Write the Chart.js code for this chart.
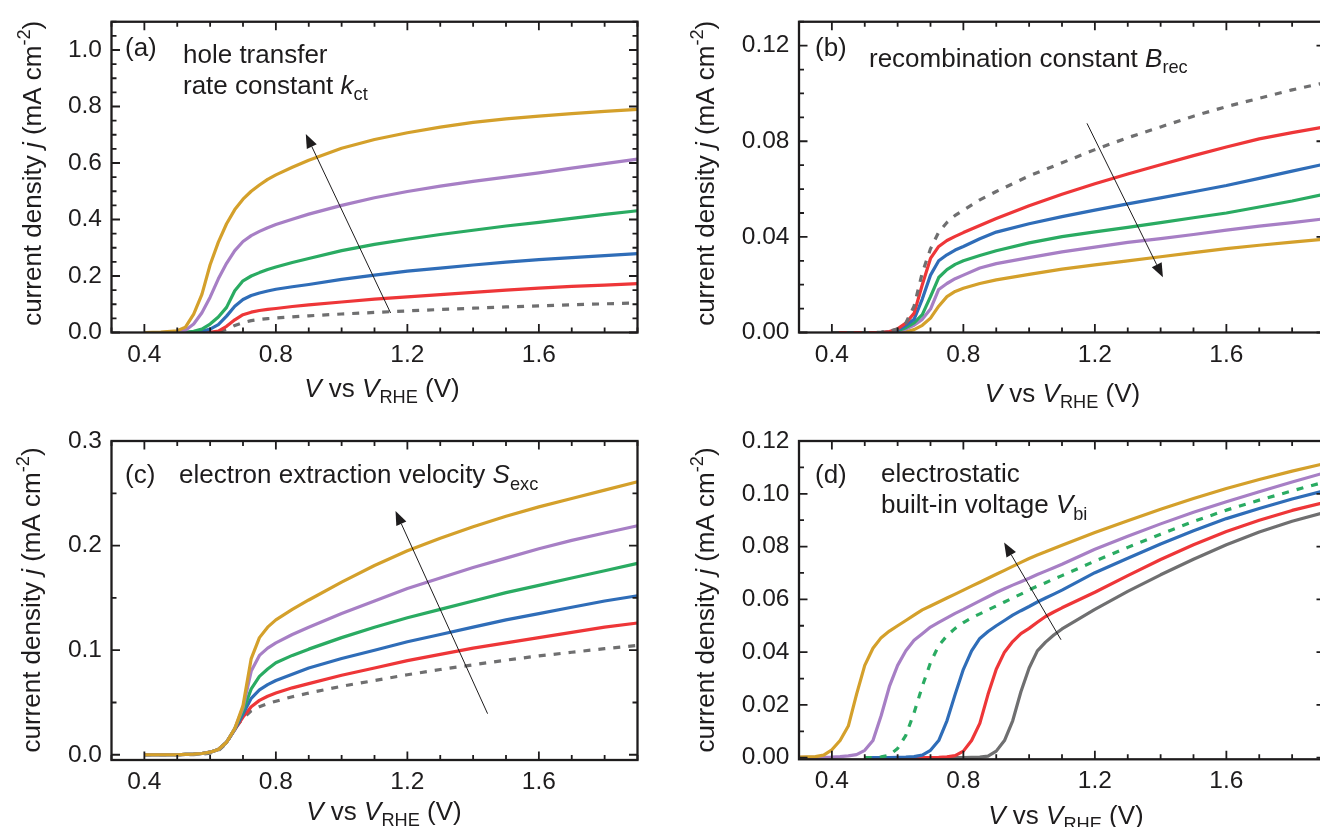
<!DOCTYPE html>
<html>
<head>
<meta charset="utf-8">
<script src="https://cdn.jsdelivr.net/npm/chart.js@4.4.1/dist/chart.umd.min.js"></script>
<style>
  html, body { margin: 0; padding: 0; background: #fff; overflow: hidden; }
  #wrap { position: relative; width: 1320px; height: 827px; overflow: hidden; }
  canvas { position: absolute; }
</style>
</head>
<body>
<div id="wrap">
  <canvas id="panelA" width="660" height="414" style="left:0;top:0"></canvas>
  <canvas id="panelB" width="670" height="414" style="left:660px;top:0"></canvas>
  <canvas id="panelC" width="660" height="413" style="left:0;top:414px"></canvas>
  <canvas id="panelD" width="670" height="413" style="left:660px;top:414px"></canvas>
</div>
<script>
/* ========== Data ========== */
// voltage grid for panels (a)-(c)
const voltage = [0.40, 0.45, 0.50, 0.525, 0.55, 0.575, 0.60, 0.625, 0.65, 0.675, 0.70, 0.725, 0.75, 0.775,
  0.80, 0.85, 0.90, 1.0, 1.1, 1.2, 1.3, 1.4, 1.5, 1.6, 1.7, 1.8, 1.9];

// reference curve (grey dashed), same in (a), (b), (c)
const jRef = [0, 0, 0, 0, 0.0002, 0.0006, 0.0015, 0.004, 0.011, 0.025, 0.035, 0.042, 0.046, 0.049,
  0.0512, 0.0555, 0.059, 0.0655, 0.071, 0.0765, 0.0815, 0.086, 0.0905, 0.0945, 0.098, 0.1015, 0.1045];

// (a) hole transfer rate constant
const aGold   = [0, 0.001, 0.006, 0.019, 0.065, 0.135, 0.24, 0.32, 0.385, 0.435, 0.472, 0.5, 0.522, 0.542,
  0.558, 0.585, 0.61, 0.652, 0.683, 0.707, 0.727, 0.744, 0.756, 0.766, 0.775, 0.783, 0.79];
const aPurple = [0, 0, 0.002, 0.008, 0.03, 0.07, 0.125, 0.19, 0.245, 0.29, 0.322, 0.343, 0.358, 0.371,
  0.382, 0.401, 0.419, 0.45, 0.477, 0.499, 0.518, 0.535, 0.55, 0.565, 0.582, 0.598, 0.614];
const aGreen  = [0, 0, 0, 0.001, 0.004, 0.012, 0.03, 0.055, 0.089, 0.148, 0.183, 0.2, 0.212, 0.223,
  0.232, 0.248, 0.262, 0.29, 0.312, 0.33, 0.347, 0.362, 0.377, 0.39, 0.404, 0.418, 0.431];
const aBlue   = [0, 0, 0, 0, 0.001, 0.004, 0.012, 0.028, 0.058, 0.093, 0.117, 0.131, 0.14, 0.147,
  0.153, 0.162, 0.17, 0.188, 0.203, 0.217, 0.228, 0.239, 0.249, 0.258, 0.265, 0.272, 0.279];
const aRed    = [0, 0, 0, 0, 0, 0, 0.001, 0.005, 0.022, 0.045, 0.063, 0.072, 0.078, 0.082,
  0.085, 0.092, 0.098, 0.108, 0.118, 0.126, 0.134, 0.142, 0.15, 0.157, 0.163, 0.168, 0.173];

// (b) recombination constant
const bRed    = [0, 0, 0, 0, 0, 0.0004, 0.0015, 0.004, 0.008, 0.02, 0.031, 0.036, 0.0385, 0.0402,
  0.0418, 0.0448, 0.0477, 0.053, 0.0578, 0.0622, 0.0663, 0.0702, 0.074, 0.0776, 0.081, 0.0836, 0.086];
const bBlue   = [0, 0, 0, 0, 0, 0.0003, 0.001, 0.003, 0.0055, 0.014, 0.024, 0.03, 0.0325, 0.0345,
  0.036, 0.0392, 0.042, 0.0455, 0.0485, 0.0512, 0.0538, 0.0563, 0.0589, 0.0615, 0.0645, 0.0675, 0.0705];
const bGreen  = [0, 0, 0, 0, 0, 0.0002, 0.0007, 0.002, 0.004, 0.0075, 0.015, 0.023, 0.0263, 0.0285,
  0.03, 0.0322, 0.0342, 0.0375, 0.0401, 0.0421, 0.044, 0.046, 0.048, 0.05, 0.0525, 0.055, 0.0579];
const bPurple = [0, 0, 0, 0, 0, 0.0001, 0.0005, 0.0015, 0.003, 0.0055, 0.0098, 0.018, 0.0205, 0.0225,
  0.024, 0.027, 0.0288, 0.0313, 0.0337, 0.0357, 0.0377, 0.0393, 0.041, 0.0428, 0.0445, 0.046, 0.0476];
const bGold   = [0, 0, 0, 0, 0, 0, 0.0001, 0.0003, 0.0012, 0.003, 0.006, 0.011, 0.015, 0.0172,
  0.0185, 0.0205, 0.022, 0.0243, 0.0265, 0.0283, 0.03, 0.0317, 0.0334, 0.0351, 0.0365, 0.0378, 0.0391];

// (c) electron extraction velocity
const cGold   = [0, 0, 0, 0.0003, 0.0006, 0.0012, 0.0025, 0.005, 0.012, 0.025, 0.047, 0.092, 0.112, 0.122,
  0.129, 0.139, 0.148, 0.165, 0.181, 0.195, 0.207, 0.218, 0.228, 0.237, 0.245, 0.253, 0.261];
const cPurple = [0, 0, 0, 0.0003, 0.0006, 0.0012, 0.0025, 0.005, 0.012, 0.025, 0.045, 0.08, 0.095, 0.102,
  0.107, 0.115, 0.122, 0.135, 0.147, 0.159, 0.169, 0.179, 0.188, 0.197, 0.205, 0.212, 0.219];
const cGreen  = [0, 0, 0, 0.0003, 0.0006, 0.0012, 0.0025, 0.005, 0.012, 0.025, 0.042, 0.063, 0.075, 0.082,
  0.088, 0.095, 0.101, 0.112, 0.122, 0.131, 0.139, 0.147, 0.155, 0.162, 0.169, 0.176, 0.183];
const cBlue   = [0, 0, 0, 0.0003, 0.0006, 0.0012, 0.0025, 0.005, 0.012, 0.024, 0.039, 0.054, 0.062, 0.067,
  0.071, 0.077, 0.083, 0.092, 0.1, 0.108, 0.115, 0.122, 0.129, 0.135, 0.141, 0.147, 0.152];
const cRed    = [0, 0, 0, 0.0003, 0.0006, 0.0012, 0.0025, 0.005, 0.012, 0.024, 0.036, 0.046, 0.052, 0.056,
  0.059, 0.064, 0.068, 0.076, 0.083, 0.09, 0.096, 0.102, 0.107, 0.112, 0.117, 0.122, 0.126];

// (d) built-in voltage: its own grid
const voltageD = [0.30, 0.35, 0.375, 0.40, 0.425, 0.45, 0.475, 0.50, 0.525, 0.55, 0.575, 0.60, 0.625, 0.65,
  0.675, 0.70, 0.725, 0.75, 0.775, 0.80, 0.825, 0.85, 0.875, 0.90, 0.925, 0.95, 0.975, 1.0, 1.025, 1.05,
  1.075, 1.1, 1.2, 1.3, 1.4, 1.5, 1.6, 1.7, 1.8, 1.9];
const dGold   = [0.0002, 0.0004, 0.001, 0.003, 0.0065, 0.012, 0.024, 0.035, 0.0415, 0.0455, 0.048, 0.05, 0.052, 0.054,
  0.056, 0.0575, 0.059, 0.0605, 0.062, 0.0635, 0.065, 0.0665, 0.068, 0.0695, 0.071, 0.0725, 0.074, 0.0755, 0.0768, 0.078,
  0.0793, 0.0805, 0.0853, 0.0898, 0.0941, 0.0982, 0.102, 0.1054, 0.1086, 0.1115];
const dPurple = [0.0001, 0.0001, 0.0001, 0.0002, 0.0004, 0.0007, 0.0012, 0.0028, 0.0065, 0.016, 0.027, 0.035, 0.0405, 0.0445,
  0.047, 0.0495, 0.0513, 0.053, 0.0547, 0.0562, 0.0578, 0.0594, 0.061, 0.0626, 0.064, 0.0654, 0.0667, 0.068, 0.0694, 0.0707,
  0.072, 0.0733, 0.079, 0.0839, 0.0886, 0.093, 0.097, 0.1008, 0.1045, 0.108];
const dGreen  = [null, null, null, null, null, null, null, 0, 0.0001, 0.0003, 0.001, 0.0035, 0.0085, 0.017,
  0.027, 0.036, 0.0425, 0.0462, 0.049, 0.0512, 0.053, 0.0545, 0.056, 0.0575, 0.059, 0.0605, 0.062, 0.0636, 0.065, 0.0663,
  0.0677, 0.069, 0.0745, 0.0797, 0.0847, 0.0895, 0.0938, 0.0976, 0.1011, 0.1045];
const dBlue   = [null, null, null, null, null, null, null, 0, 0, 0, 0, 0.0001, 0.0002, 0.0004,
  0.001, 0.0028, 0.0065, 0.014, 0.024, 0.0335, 0.0405, 0.0452, 0.0478, 0.05, 0.052, 0.054, 0.0557, 0.0573, 0.059, 0.0605,
  0.062, 0.0635, 0.0701, 0.0756, 0.081, 0.086, 0.0906, 0.0944, 0.098, 0.1012];
const dRed    = [null, null, null, null, null, null, null, 0, 0, 0, 0, 0, 0, 0,
  0, 0, 0.0001, 0.0003, 0.0008, 0.0025, 0.0065, 0.013, 0.024, 0.0335, 0.04, 0.044, 0.047, 0.049, 0.0513, 0.0535,
  0.0552, 0.0568, 0.0627, 0.069, 0.0751, 0.0807, 0.0857, 0.09, 0.0937, 0.0968];
const dGray   = [null, null, null, null, null, null, null, null, null, null, null, null, null, null,
  null, 0, 0, 0, 0, 0, 0.0001, 0.0002, 0.0006, 0.0025, 0.0065, 0.014, 0.025, 0.034, 0.0405, 0.0438,
  0.0465, 0.0488, 0.0562, 0.063, 0.0693, 0.0752, 0.0807, 0.0855, 0.0896, 0.093];

// tick labels
const xTicks  = [0.4, 0.8, 1.2, 1.6];
const aYTicks = [0, 0.2, 0.4, 0.6, 0.8, 1.0];
const bYTicks = [0, 0.04, 0.08, 0.12];
const cYTicks = [0, 0.1, 0.2, 0.3];
const dYTicks = [0, 0.02, 0.04, 0.06, 0.08, 0.10, 0.12];

// arrows [tail, tip] in data units
const aArrow = [[1.149, 0.069], [0.891, 0.703]];
const bArrow = [[1.176, 0.0875], [1.407, 0.0231]];
const cArrow = [[1.444, 0.0393], [1.164, 0.233]];
const dArrow = [[1.097, 0.0447], [0.924, 0.0815]];

/* ========== Styles ========== */
const INK = '#1e1c1d';
const FONT = "'Liberation Sans', Arial, Helvetica, sans-serif";
const GOLD = '#d4a02b', PURPLE = '#a77fc5', GREEN = '#2aab62', BLUE = '#2f6db8', RED = '#ee3638', GREY = '#6f6f70';
const DASH = [7, 8];

/* ========== Helpers ========== */
// parts: strings, or [text, 'i' | 'sub' | 'sup']
function richText(ctx, parts, x, y, size, align) {
  const items = parts.map(p => Array.isArray(p) ? { t: p[0], s: p[1] } : { t: p, s: '' });
  const fontOf = it => {
    const small = it.s === 'sub' || it.s === 'sup';
    return (it.s === 'i' ? 'italic ' : '') + (small ? size * 0.7 : size) + 'px ' + FONT;
  };
  let total = 0;
  items.forEach(it => { ctx.font = fontOf(it); it.w = ctx.measureText(it.t).width; total += it.w; });
  let cx = align === 'center' ? x - total / 2 : x;
  items.forEach(it => {
    ctx.font = fontOf(it);
    const dy = it.s === 'sub' ? size * 0.24 : it.s === 'sup' ? -size * 0.42 : 0;
    ctx.fillText(it.t, cx, y + dy);
    cx += it.w;
  });
}

/* ========== Plugins: frame with inward ticks, texts, arrow ========== */
const framePlugin = {
  id: 'frame',
  afterDraw(chart, args, o) {
    const { ctx, chartArea: a, scales: { x, y } } = chart;
    ctx.save();
    ctx.strokeStyle = INK;
    ctx.lineWidth = 1.8;
    ctx.beginPath();
    const isMajor = (sc, v) => sc.ticks.some(t => Math.abs(t.value - v) < 1e-9);
    for (let k = Math.ceil(x.min / o.xMinor - 1e-6); k * o.xMinor <= x.max + 1e-9; k++) {
      const v = +(k * o.xMinor).toFixed(6);
      const px = x.getPixelForValue(v);
      const len = isMajor(x, v) ? 8.5 : 5;
      ctx.moveTo(px, a.bottom); ctx.lineTo(px, a.bottom - len);
      ctx.moveTo(px, a.top); ctx.lineTo(px, a.top + len);
    }
    for (let k = Math.ceil(y.min / o.yMinor - 1e-6); k * o.yMinor <= y.max + 1e-9; k++) {
      const v = +(k * o.yMinor).toFixed(6);
      const py = y.getPixelForValue(v);
      const len = isMajor(y, v) ? 8.5 : 5;
      ctx.moveTo(a.left, py); ctx.lineTo(a.left + len, py);
      ctx.moveTo(a.right, py); ctx.lineTo(a.right - len, py);
    }
    ctx.stroke();
    ctx.lineWidth = 2.3;
    ctx.strokeRect(a.left, a.top, a.right - a.left, a.bottom - a.top);
    ctx.restore();
  }
};

const notesPlugin = {
  id: 'notes',
  afterDraw(chart, args, o) {
    const { ctx, scales: { x, y } } = chart;
    ctx.save();
    ctx.fillStyle = INK;
    ctx.textBaseline = 'alphabetic';
    ctx.textAlign = 'left';
    // axis titles
    richText(ctx, [['V', 'i'], ' vs ', ['V', 'i'], ['RHE', 'sub'], ' (V)'], o.xTitle[0], o.xTitle[1], 26, 'center');
    ctx.save();
    ctx.translate(o.yTitle[0], o.yTitle[1]);
    ctx.rotate(-Math.PI / 2);
    richText(ctx, ['current density ', ['j', 'i'], ' (mA cm', ['-2', 'sup'], ')'], 0, 0, 26, 'center');
    ctx.restore();
    // labels
    o.texts.forEach(t => richText(ctx, t.parts, t.x, t.y, 26, 'left'));
    // arrow
    const [tail, tip] = o.arrow;
    const x0 = x.getPixelForValue(tail[0]), y0 = y.getPixelForValue(tail[1]);
    const x1 = x.getPixelForValue(tip[0]), y1 = y.getPixelForValue(tip[1]);
    const ang = Math.atan2(y1 - y0, x1 - x0);
    const hl = 14, hw = 5.5;
    const bx = x1 - hl * Math.cos(ang), by = y1 - hl * Math.sin(ang);
    ctx.strokeStyle = INK;
    ctx.lineWidth = 1;
    ctx.beginPath();
    ctx.moveTo(x0, y0); ctx.lineTo(bx, by);
    ctx.stroke();
    ctx.beginPath();
    ctx.moveTo(x1, y1);
    ctx.lineTo(bx + hw * Math.sin(ang), by - hw * Math.cos(ang));
    ctx.lineTo(bx - hw * Math.sin(ang), by + hw * Math.cos(ang));
    ctx.closePath();
    ctx.fill();
    ctx.restore();
  }
};

/* ========== Panel builder ========== */
function makePanel(id, cfg) {
  const tickFont = { family: FONT, size: 24.5, lineHeight: 1 };
  return new Chart(document.getElementById(id), {
    type: 'line',
    data: {
      datasets: cfg.series.map(s => ({
        data: cfg.volts.map((v, i) => ({ x: v, y: s.data[i] })),
        borderColor: s.color,
        borderWidth: 3.2,
        borderDash: s.dash || [],
        borderJoinStyle: 'round',
        pointRadius: 0,
        tension: 0,
        fill: false
      }))
    },
    options: {
      responsive: false,
      animation: false,
      events: [],
      layout: { padding: cfg.pad },
      plugins: {
        legend: { display: false },
        tooltip: { enabled: false },
        frame: { xMinor: 0.1, yMinor: cfg.yMinor },
        notes: { texts: cfg.texts, arrow: cfg.arrow, xTitle: cfg.xTitle, yTitle: cfg.yTitle }
      },
      scales: {
        x: {
          type: 'linear', min: 0.3, max: 1.9,
          grid: { display: false, drawTicks: false },
          border: { display: false },
          afterFit: s => { s.height = cfg.xh; },
          afterBuildTicks: s => { s.ticks = xTicks.map(v => ({ value: v })); },
          ticks: { callback: v => v.toFixed(1), font: tickFont, color: INK, padding: 10, maxRotation: 0, autoSkip: false }
        },
        y: {
          type: 'linear', min: cfg.yMin, max: cfg.yMax,
          grid: { display: false, drawTicks: false },
          border: { display: false },
          afterFit: s => { s.width = cfg.yw; },
          afterBuildTicks: s => { s.ticks = cfg.yTicks.map(v => ({ value: v })); },
          ticks: { callback: v => v.toFixed(cfg.yDec), font: tickFont, color: INK, padding: 9.5, autoSkip: false }
        }
      }
    },
    plugins: [framePlugin, notesPlugin]
  });
}

/* ========== Panels ========== */
makePanel('panelA', {
  volts: voltage,
  series: [
    { data: aGold, color: GOLD }, { data: aPurple, color: PURPLE }, { data: aGreen, color: GREEN },
    { data: aBlue, color: BLUE }, { data: aRed, color: RED }, { data: jRef, color: GREY, dash: DASH }
  ],
  yMin: 0, yMax: 1.1, yMinor: 0.05, yTicks: aYTicks, yDec: 1,
  pad: { left: 0, right: 22.5, top: 14, bottom: 0 }, yw: 111.5, xh: 81.5,
  xTitle: [382, 397], yTitle: [41, 173.3],
  texts: [
    { x: 125, y: 56, parts: ['(a)'] },
    { x: 183, y: 62.7, parts: ['hole transfer'] },
    { x: 183, y: 94, parts: ['rate constant ', ['k', 'i'], ['ct', 'sub']] }
  ],
  arrow: aArrow
});

makePanel('panelB', {
  volts: voltage,
  series: [
    { data: jRef, color: GREY, dash: DASH }, { data: bRed, color: RED }, { data: bBlue, color: BLUE },
    { data: bGreen, color: GREEN }, { data: bPurple, color: PURPLE }, { data: bGold, color: GOLD }
  ],
  yMin: 0, yMax: 0.13, yMinor: 0.01, yTicks: bYTicks, yDec: 2,
  pad: { left: 0, right: 5, top: 14, bottom: 0 }, yw: 139, xh: 81.5,
  xTitle: [402.5, 402], yTitle: [54, 173.3],
  texts: [
    { x: 155, y: 56, parts: ['(b)'] },
    { x: 209, y: 66.7, parts: ['recombination constant ', ['B', 'i'], ['rec', 'sub']] }
  ],
  arrow: bArrow
});

makePanel('panelC', {
  volts: voltage,
  series: [
    { data: cGold, color: GOLD }, { data: cPurple, color: PURPLE }, { data: cGreen, color: GREEN },
    { data: cBlue, color: BLUE }, { data: cRed, color: RED }, { data: jRef, color: GREY, dash: DASH }
  ],
  yMin: -0.005, yMax: 0.3, yMinor: 0.05, yTicks: cYTicks, yDec: 1,
  pad: { left: 0, right: 22.5, top: 27, bottom: 0 }, yw: 111.5, xh: 67,
  xTitle: [384, 405.6], yTitle: [40, 186],
  texts: [
    { x: 125, y: 69, parts: ['(c)'] },
    { x: 179, y: 69.3, parts: ['electron extraction velocity ', ['S', 'i'], ['exc', 'sub']] }
  ],
  arrow: cArrow
});

makePanel('panelD', {
  volts: voltageD,
  series: [
    { data: dGold, color: GOLD }, { data: dPurple, color: PURPLE }, { data: dGreen, color: GREEN, dash: DASH },
    { data: dBlue, color: BLUE }, { data: dRed, color: RED }, { data: dGray, color: GREY }
  ],
  yMin: -0.0006, yMax: 0.12, yMinor: 0.01, yTicks: dYTicks, yDec: 2,
  pad: { left: 0, right: 5, top: 27, bottom: 0 }, yw: 139, xh: 67.7,
  xTitle: [406, 410], yTitle: [54, 186],
  texts: [
    { x: 155, y: 69, parts: ['(d)'] },
    { x: 221, y: 68.3, parts: ['electrostatic'] },
    { x: 221, y: 99.3, parts: ['built-in voltage ', ['V', 'i'], ['bi', 'sub']] }
  ],
  arrow: dArrow
});
</script>
</body>
</html>
